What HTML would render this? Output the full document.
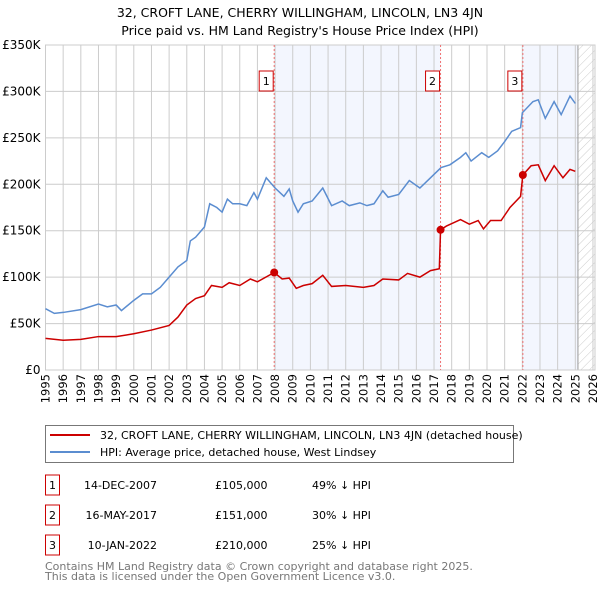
<!DOCTYPE html>
<html><head><meta charset="utf-8"><style>
body{margin:0;background:#fff;font-family:"DejaVu Sans","Liberation Sans",sans-serif;}
svg text{font-family:"DejaVu Sans","Liberation Sans",sans-serif;}
</style></head><body>
<svg id="chart" width="600" height="590" xmlns="http://www.w3.org/2000/svg">
<defs><pattern id="hatch" width="6" height="6" patternUnits="userSpaceOnUse" patternTransform="rotate(45)"><line x1="0" y1="0" x2="0" y2="6" stroke="#ccc" stroke-width="1"/></pattern></defs>
<text x="300" y="17" text-anchor="middle" font-size="12.5">32, CROFT LANE, CHERRY WILLINGHAM, LINCOLN, LN3 4JN</text>
<text x="300" y="35" text-anchor="middle" font-size="12.5">Price paid vs. HM Land Registry's House Price Index (HPI)</text>
<g id="plot"></g>
<rect x="45.5" y="425.5" width="468" height="37" fill="#fff" stroke="#777"/>
<line x1="50" y1="435" x2="90" y2="435" stroke="#cc0000" stroke-width="2"/>
<text x="100" y="439" font-size="11">32, CROFT LANE, CHERRY WILLINGHAM, LINCOLN, LN3 4JN (detached house)</text>
<line x1="50" y1="452" x2="90" y2="452" stroke="#5b8dd0" stroke-width="2"/>
<text x="100" y="456" font-size="11">HPI: Average price, detached house, West Lindsey</text>
<g id="table" font-size="11"></g>
<text x="45" y="570" font-size="11" fill="#777">Contains HM Land Registry data © Crown copyright and database right 2025.</text>
<text x="45" y="580" font-size="11" fill="#777">This data is licensed under the Open Government Licence v3.0.</text>
</svg>
<script>
const hpiYears=[1995,1995.5,1996,1997,1998,1998.5,1999,1999.3,2000,2000.5,2001,2001.5,2002,2002.5,2003,2003.2,2003.5,2004,2004.3,2004.7,2005,2005.3,2005.6,2006,2006.4,2006.8,2007,2007.5,2008,2008.5,2008.8,2009,2009.3,2009.6,2010.1,2010.7,2011.2,2011.8,2012.2,2012.8,2013.2,2013.6,2014.1,2014.4,2015,2015.6,2016.2,2016.8,2017.4,2017.9,2018.5,2018.8,2019.1,2019.7,2020.1,2020.6,2021,2021.4,2021.9,2022,2022.6,2022.9,2023.3,2023.8,2024.2,2024.7,2025];
const hpiValues=[66,61,62,65,71,68,70,64,75,82,82,89,100,111,118,139,143,154,179,175,170,184,179,179,177,191,184,207,196,187,195,182,170,179,182,196,177,182,177,180,177,179,193,186,189,204,196,207,218,221,229,234,225,234,229,236,246,257,261,277,289,291,271,289,275,295,287];
const ppYears=[1995,1996,1997,1998,1999,2000,2001,2002,2002.5,2003,2003.5,2004,2004.4,2005,2005.4,2006,2006.6,2007,2007.95,2008.4,2008.8,2009.2,2009.6,2010.1,2010.7,2011.2,2012,2013,2013.6,2014.1,2015,2015.5,2016.2,2016.8,2017.3,2017.37,2017.7,2018.5,2019,2019.5,2019.8,2020.2,2020.8,2021.3,2021.9,2022.03,2022.5,2022.9,2023.3,2023.8,2024.3,2024.7,2025];
const ppValues=[34,32,33,36,36,39,43,48,57,70,77,80,91,89,94,91,98,95,105,98,99,88,91,93,102,90,91,89,91,98,97,104,100,107,109,151,155,162,157,161,152,161,161,175,187,210,220,221,204,220,207,216,214];
const saleYears=[2007.95,2017.37,2022.03];
const saleValues=[105,151,210];
const saleLabels=["1","2","3"];
const saleDates=["14-DEC-2007","16-MAY-2017","10-JAN-2022"];
const salePrices=["£105,000","£151,000","£210,000"];
const saleHpi=["49% ↓ HPI","30% ↓ HPI","25% ↓ HPI"];
const yTicks=[0,50,100,150,200,250,300,350];
const yTickLabels=["£0","£50K","£100K","£150K","£200K","£250K","£300K","£350K"];
const xTicks=[1995,1996,1997,1998,1999,2000,2001,2002,2003,2004,2005,2006,2007,2008,2009,2010,2011,2012,2013,2014,2015,2016,2017,2018,2019,2020,2021,2022,2023,2024,2025,2026];

const NS="http://www.w3.org/2000/svg";
const L=45.5,R=595,T=45,B=370;
const x=v=>L+(v-1995)*17.66;
const y=v=>B-v*(B-T)/350;
const g=document.getElementById('plot');
function mk(tag,at,parent){const e=document.createElementNS(NS,tag);for(const k in at)e.setAttribute(k,at[k]);(parent||g).appendChild(e);return e;}
const hatchStart=2025.15;
let e;
e=mk('rect',{x:x(saleYears[0]),y:T,width:x(saleYears[1])-x(saleYears[0]),height:B-T,fill:'#eef2fd',opacity:0.7});


e=mk('rect',{x:x(saleYears[2]),y:T,width:x(hatchStart)-x(saleYears[2]),height:B-T,fill:'#eef2fd',opacity:0.7});


e=mk('rect',{x:x(hatchStart),y:T,width:R-x(hatchStart),height:B-T,fill:'url(#hatch)'});


xTicks.forEach(t=>{
 e=mk('line',{x1:x(t),x2:x(t),y1:T,y2:B,stroke:'#ccc'});
 
 
 const tx=x(t)+4, ty=B+4;
 e=mk('text',{x:tx,y:ty,'text-anchor':'end','font-size':11.5,transform:'rotate(-90 '+tx+' '+ty+')'});
 
 
 e.textContent=t;
});
yTicks.forEach((t,i)=>{
 e=mk('line',{x1:L,x2:R,y1:y(t),y2:y(t),stroke:'#ccc'});
 
 
 e=mk('text',{x:L-5,y:y(t)+4,'text-anchor':'end','font-size':12});
 
 
 e.textContent=yTickLabels[i];
});
e=mk('line',{x1:x(hatchStart),x2:x(hatchStart),y1:T,y2:B,stroke:'#999'});


e=mk('rect',{x:L,y:T,width:R-L,height:B-T,fill:'none',stroke:'#ccc'});


saleYears.forEach((s,i)=>{
 e=mk('line',{x1:x(s),x2:x(s),y1:T,y2:B,stroke:'#f07070','stroke-dasharray':'2,2'});
 
 
 e=mk('rect',{x:x(s)-15,y:71,width:14,height:20,fill:'#fff',stroke:'#cc0000'});
 
 
 e=mk('text',{x:x(s)-8,y:85,'text-anchor':'middle','font-size':11});
 
 
 e.textContent=saleLabels[i];
});
e=mk('polyline',{points:hpiYears.map((v,i)=>x(v)+','+y(hpiValues[i])).join(' '),fill:'none',stroke:'#5b8dd0','stroke-width':1.5});


e=mk('polyline',{points:ppYears.map((v,i)=>x(v)+','+y(ppValues[i])).join(' '),fill:'none',stroke:'#cc0000','stroke-width':1.5});


saleYears.forEach((s,i)=>{
 e=mk('circle',{cx:x(s),cy:y(saleValues[i]),r:4,fill:'#cc0000'});
 
 
});
const tb=document.getElementById('table');
saleLabels.forEach((lab,i)=>{
 const yy=485+i*30;
 e=mk('rect',{x:45.5,y:yy-10,width:14,height:20,fill:'#fff',stroke:'#cc0000'},tb);
 
 
 e=mk('text',{x:52.5,y:yy+4,'text-anchor':'middle'},tb);
 
 
 e.textContent=lab;
 e=mk('text',{x:157,y:yy+4,'text-anchor':'end'},tb);
 
 
 e.textContent=saleDates[i];
 e=mk('text',{x:215,y:yy+4},tb);
 
 
 e.textContent=salePrices[i];
 e=mk('text',{x:312,y:yy+4},tb);
 
 
 e.textContent=saleHpi[i];
});
</script>
</body></html>
